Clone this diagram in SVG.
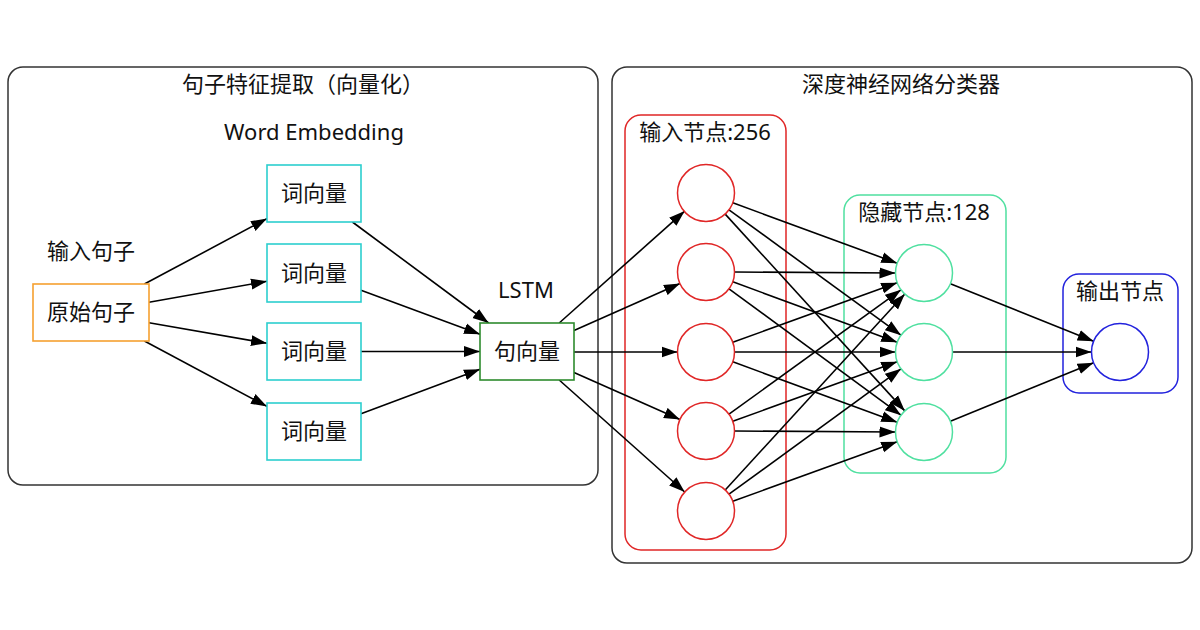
<svg xmlns="http://www.w3.org/2000/svg" width="1200" height="630" viewBox="0 0 1200 630">
<style>
text{font-family:"Noto Sans","Noto Sans CJK SC",sans-serif;font-size:22px;fill:#111;text-anchor:middle}
.cl{fill:none;stroke:#333;stroke-width:1.5}
.e{stroke:#000;stroke-width:1.6;fill:none;marker-end:url(#ah)}
.wv{fill:#fff;stroke:#2ccfcf;stroke-width:1.6}
.rc{fill:#fff;stroke:#e02626;stroke-width:1.5}
.gc{fill:#fff;stroke:#4fe0a0;stroke-width:1.5}
.bc{fill:#fff;stroke:#2222dd;stroke-width:1.5}
</style>
<defs>
<marker id="ah" markerUnits="userSpaceOnUse" markerWidth="16" markerHeight="12" refX="16" refY="6" orient="auto">
<path d="M0,0.5 L16,6 L0,11.5 z" fill="#000"/>
</marker>
</defs>
<rect width="1200" height="630" fill="#fff"/>
<g id="cluster-left">
<rect class="cl" x="8" y="67" width="590" height="418" rx="15"/>
<text x="303" y="92">句子特征提取（向量化）</text>
<text x="314" y="140">Word Embedding</text>
</g>
<g id="cluster-right">
<rect class="cl" x="612" y="67" width="580" height="496" rx="15"/>
<text x="901" y="92">深度神经网络分类器</text>
</g>
<g id="cluster-input">
<rect x="625" y="115" width="161" height="435" rx="16" fill="none" stroke="#e02626" stroke-width="1.5"/>
<text x="705" y="140">输入节点:256</text>
</g>
<g id="cluster-hidden">
<rect x="844" y="195" width="162" height="278" rx="16" fill="none" stroke="#4fe0a0" stroke-width="1.5"/>
<text x="924" y="220">隐藏节点:128</text>
</g>
<g id="cluster-output">
<rect x="1063" y="274" width="115" height="119" rx="16" fill="none" stroke="#2222dd" stroke-width="1.5"/>
<text x="1120" y="299">输出节点</text>
</g>
<g id="connectors">
<line class="e" x1="144.4" y1="284" x2="267" y2="218.6"/>
<line class="e" x1="149" y1="302.2" x2="267" y2="281.3"/>
<line class="e" x1="149" y1="322.7" x2="267" y2="343.3"/>
<line class="e" x1="144.4" y1="341" x2="267" y2="406.4"/>
<line class="e" x1="352.4" y1="222" x2="488.6" y2="323"/>
<line class="e" x1="361" y1="290.3" x2="480" y2="334.2"/>
<line class="e" x1="361" y1="351.5" x2="480" y2="351.5"/>
<line class="e" x1="361" y1="413.8" x2="480" y2="369.2"/>
<line class="e" x1="559.2" y1="323" x2="684.7" y2="211.1"/>
<line class="e" x1="574" y1="330.6" x2="680" y2="283.6"/>
<line class="e" x1="574" y1="352" x2="677.5" y2="352"/>
<line class="e" x1="574" y1="372.4" x2="680" y2="419.4"/>
<line class="e" x1="559.2" y1="380" x2="684.7" y2="492"/>
<line class="e" x1="732.8" y1="202.8" x2="897.2" y2="263.2"/>
<line class="e" x1="729" y1="209.8" x2="901" y2="335.2"/>
<line class="e" x1="725.2" y1="214.1" x2="904.8" y2="410.9"/>
<line class="e" x1="734.5" y1="272" x2="895.5" y2="273"/>
<line class="e" x1="732.8" y1="281.8" x2="897.2" y2="342.2"/>
<line class="e" x1="729" y1="288.8" x2="901" y2="415.2"/>
<line class="e" x1="732.8" y1="342.3" x2="897.2" y2="282.7"/>
<line class="e" x1="734.5" y1="352" x2="895.5" y2="352"/>
<line class="e" x1="732.8" y1="361.8" x2="897.2" y2="422.2"/>
<line class="e" x1="729" y1="414.2" x2="901" y2="289.8"/>
<line class="e" x1="732.8" y1="421.3" x2="897.2" y2="361.7"/>
<line class="e" x1="734.5" y1="431" x2="895.5" y2="432"/>
<line class="e" x1="725.2" y1="490" x2="904.8" y2="294"/>
<line class="e" x1="729" y1="494.2" x2="901" y2="368.8"/>
<line class="e" x1="732.8" y1="501.3" x2="897.2" y2="441.7"/>
<line class="e" x1="950.4" y1="283.7" x2="1093.6" y2="341.3"/>
<line class="e" x1="952.5" y1="352" x2="1091.5" y2="352"/>
<line class="e" x1="950.4" y1="421.3" x2="1093.6" y2="362.7"/>
</g>
<g id="label-input-sentence"><text x="91" y="259">输入句子</text></g>
<g id="node-raw"><rect x="33" y="284" width="116" height="57" fill="#fff" stroke="#f5a030" stroke-width="1.6"/><text x="91" y="320">原始句子</text></g>
<g id="node-w1"><rect class="wv" x="267" y="165" width="94" height="57"/><text x="314" y="201">词向量</text></g>
<g id="node-w2"><rect class="wv" x="267" y="244" width="94" height="58"/><text x="314" y="281">词向量</text></g>
<g id="node-w3"><rect class="wv" x="267" y="323" width="94" height="57"/><text x="314" y="359">词向量</text></g>
<g id="node-w4"><rect class="wv" x="267" y="403" width="94" height="57"/><text x="314" y="439">词向量</text></g>
<g id="label-lstm"><text x="526" y="298">LSTM</text></g>
<g id="node-sent"><rect x="480" y="323" width="94" height="57" fill="#fff" stroke="#2e8b2e" stroke-width="1.6"/><text x="527" y="359">句向量</text></g>
<g id="node-in1"><ellipse class="rc" cx="706" cy="193" rx="28.5" ry="28.5"/></g>
<g id="node-in2"><ellipse class="rc" cx="706" cy="272" rx="28.5" ry="28.5"/></g>
<g id="node-in3"><ellipse class="rc" cx="706" cy="352" rx="28.5" ry="28.5"/></g>
<g id="node-in4"><ellipse class="rc" cx="706" cy="431" rx="28.5" ry="28.5"/></g>
<g id="node-in5"><ellipse class="rc" cx="706" cy="511" rx="28.5" ry="28.5"/></g>
<g id="node-h1"><ellipse class="gc" cx="924" cy="273" rx="28.5" ry="28.5"/></g>
<g id="node-h2"><ellipse class="gc" cx="924" cy="352" rx="28.5" ry="28.5"/></g>
<g id="node-h3"><ellipse class="gc" cx="924" cy="432" rx="28.5" ry="28.5"/></g>
<g id="node-out"><ellipse class="bc" cx="1120" cy="352" rx="28.5" ry="28.5"/></g>
</svg>
